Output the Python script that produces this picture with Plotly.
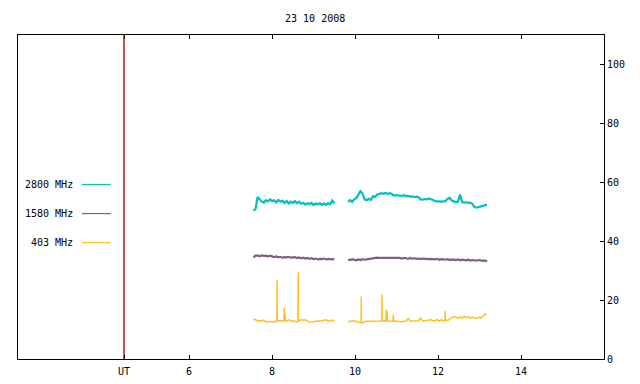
import numpy as np
import plotly.graph_objects as go

title_text = "23 10 2008"
series_names = ["2800 MHz", "1580 MHz", "403 MHz"]
series_colors = ["#00C0C0", "#806080", "#FFC020"]

# sampling times (UT hours) of the two observing segments
t_seg1_start, t_seg2_start, t_step = 7.55, 9.83, 0.05

cyan_seg1 = [50.4, 50.9, 55.0, 54.3, 53.4, 53.1, 53.9, 53.5, 54.2, 53.6,
             53.9, 53.2, 54.0, 53.4, 53.8, 53.0, 53.6, 52.8, 53.4, 53.0,
             53.6, 52.9, 53.4, 52.7, 53.0, 52.4, 52.9, 52.6, 53.0, 52.3,
             52.8, 52.5, 52.9, 52.4, 52.8, 52.3, 52.9, 52.5, 53.8, 52.8]
cyan_seg2 = [53.3, 53.9, 53.4, 54.2, 54.6, 55.6, 57.0, 56.2, 54.2, 53.9,
             54.4, 54.0, 55.3, 55.0, 55.8, 56.0, 56.3, 56.1, 56.4, 56.0,
             56.3, 56.1, 55.5, 55.6, 55.5, 55.6, 55.4, 55.6, 55.3, 55.4,
             55.1, 55.2, 55.0, 55.1, 54.9, 54.2, 54.1, 54.3, 54.2, 54.5,
             54.3, 54.0, 53.6, 53.5, 53.6, 53.4, 53.5, 53.6, 54.4, 54.7,
             53.8, 53.5, 53.3, 53.4, 55.8, 53.3, 53.1, 53.2, 53.0, 53.1,
             52.6, 51.6, 51.4, 51.6, 51.8, 51.9, 52.2, 52.4]

purple_seg1 = [34.5, 35.1, 35.2, 34.9, 35.2, 35.0, 35.1, 34.8, 35.1, 34.9,
               34.6, 34.8, 34.5, 34.7, 34.4, 34.6, 34.5, 34.7, 34.4, 34.5,
               34.6, 34.3, 34.5, 34.2, 34.4, 34.1, 34.3, 34.0, 34.2, 33.9,
               34.1, 33.8, 34.0, 33.9, 34.1, 33.8, 34.0, 33.9, 33.8, 34.0]
purple_seg2 = [33.8, 33.6, 33.9, 33.7, 33.5, 33.8, 33.6, 33.9, 33.7, 33.8,
               33.9, 34.0, 34.3, 34.2, 34.4, 34.3, 34.3, 34.2, 34.4, 34.3,
               34.3, 34.2, 34.3, 34.4, 34.2, 34.3, 34.1, 34.3, 34.2, 34.0,
               34.3, 34.1, 34.2, 34.0, 34.1, 33.9, 34.1, 34.0, 34.1, 33.9,
               34.0, 33.9, 33.8, 34.0, 33.7, 33.9, 33.8, 33.7, 33.9, 33.6,
               33.8, 33.7, 33.6, 33.8, 33.5, 33.7, 33.6, 33.5, 33.7, 33.4,
               33.6, 33.5, 33.4, 33.6, 33.5, 33.3, 33.5, 33.1]

yellow_seg1 = [13.6, 13.4, 13.0, 13.1, 12.9, 13.2, 12.6, 12.7, 12.6, 12.7,
               12.6, 12.9, 12.9, 13.1, 12.9, 13.0, 12.9, 13.3, 12.9, 13.0,
               12.8, 12.6, 13.0, 13.3, 13.2, 13.3, 12.9, 12.6, 12.6, 12.7,
               12.9, 12.9, 12.8, 12.9, 13.0, 13.3, 12.9, 12.9, 13.2, 12.9]
yellow_seg2 = [12.6, 12.7, 13.0, 12.8, 12.8, 12.5, 12.3, 12.2, 12.7, 12.8,
               12.8, 12.7, 12.9, 12.9, 12.8, 12.9, 12.8, 13.0, 12.9, 12.9,
               12.8, 12.9, 12.8, 12.9, 12.8, 12.6, 12.6, 12.8, 12.9, 13.7,
               12.9, 12.9, 12.8, 12.9, 13.0, 13.9, 12.9, 13.0, 12.9, 13.0,
               13.3, 12.9, 13.0, 13.3, 12.9, 13.4, 12.9, 13.4, 13.0, 13.6,
               14.0, 14.4, 14.1, 13.9, 14.3, 13.8, 14.5, 14.0, 14.4, 13.9,
               14.2, 14.0, 13.8, 14.2, 13.9, 14.4, 15.3, 15.0]

# short bursts on the 403 MHz record: time, peak, local base level
spike_times = [8.12, 8.29, 8.31, 8.63, 10.15, 10.65, 10.75, 10.77, 10.92, 12.17]
spike_peaks = [27.0, 17.4, 15.1, 29.4, 21.2, 21.9, 16.7, 16.3, 15.1, 16.3]
spike_bases = [12.9, 13.0, 13.0, 13.0, 12.3, 12.9, 12.9, 12.9, 12.8, 13.0]

ut_marker = 4.43
x_tickvals = [ut_marker, 6, 8, 10, 12, 14]
x_ticktext = ["UT", "6", "8", "10", "12", "14"]
y_tickvals = [0, 20, 40, 60, 80, 100]
x_range = [1.875, 16.0]
y_range = [0, 110]

t1 = [round(t_seg1_start + t_step * i, 3) for i in range(len(cyan_seg1))]
t2 = [round(t_seg2_start + t_step * i, 3) for i in range(len(cyan_seg2))]


def joined(v1, v2):
    return t1 + [None] + t2, list(v1) + [None] + list(v2)


def with_spikes(times, vals):
    pts = [(t, v) for t, v in zip(times, vals)]
    for st, sp, sb in zip(spike_times, spike_peaks, spike_bases):
        if times[0] <= st <= times[-1]:
            pts += [(st - 0.004, sb), (st, sp), (st + 0.004, sb)]
    pts.sort()
    return [p[0] for p in pts], [p[1] for p in pts]


fig = go.Figure()

FONT = "DejaVu Sans Mono"

for name, color, s1, s2 in [
    (series_names[0], series_colors[0], cyan_seg1, cyan_seg2),
    (series_names[1], series_colors[1], purple_seg1, purple_seg2),
]:
    x, y = joined(s1, s2)
    fig.add_trace(go.Scatter(x=x, y=y, mode="lines", name=name,
                             line=dict(color=color, width=2.2), showlegend=False))

ya1x, ya1y = with_spikes(t1, yellow_seg1)
ya2x, ya2y = with_spikes(t2, yellow_seg2)
fig.add_trace(go.Scatter(x=ya1x + [None] + ya2x, y=ya1y + [None] + ya2y,
                         mode="lines", name=series_names[2],
                         line=dict(color=series_colors[2], width=1.5),
                         showlegend=False))

# UT marker line
fig.add_shape(type="line", xref="x", yref="paper", x0=ut_marker, x1=ut_marker,
              y0=0, y1=1, line=dict(color="#8B0000", width=1.3))

# legend drawn gnuplot-style (label left of sample line)
legend_y = [0.5387, 0.4489, 0.3591]
for name, color, ly in zip(series_names, series_colors, legend_y):
    fig.add_annotation(xref="paper", yref="paper", x=0.0978, y=ly, text=name,
                       showarrow=False, xanchor="right", yanchor="middle",
                       font=dict(family=FONT, size=10, color="black"))
    fig.add_shape(type="line", xref="paper", yref="paper", x0=0.1092, x1=0.1582,
                  y0=ly, y1=ly, line=dict(color=color, width=1.2))

# page body has an 8px margin, so the figure is drawn 8px in from the corner
fig.update_layout(
    width=632, height=376,
    margin=dict(l=10, r=36, t=27, b=25),
    paper_bgcolor="white", plot_bgcolor="white",
    font=dict(family=FONT, size=10, color="black"),
    title=dict(text=title_text, x=0.486, xanchor="center", y=0.973, yanchor="middle",
               font=dict(family=FONT, size=10, color="black")),
    showlegend=False,
)
fig.update_xaxes(range=x_range, tickvals=x_tickvals, ticktext=x_ticktext,
                 showgrid=False, zeroline=False, showline=True, linecolor="black",
                 linewidth=1, mirror="ticks", ticks="inside", ticklen=4,
                 tickcolor="black", tickfont=dict(family=FONT, size=10),
                 ticklabelstandoff=3, automargin=False)
fig.update_yaxes(range=y_range, tickvals=y_tickvals, side="right",
                 showgrid=False, zeroline=False, showline=True, linecolor="black",
                 linewidth=1, mirror=True, ticks="inside", ticklen=4,
                 tickcolor="black", tickfont=dict(family=FONT, size=10),
                 automargin=False)

fig.write_html("out.html")
